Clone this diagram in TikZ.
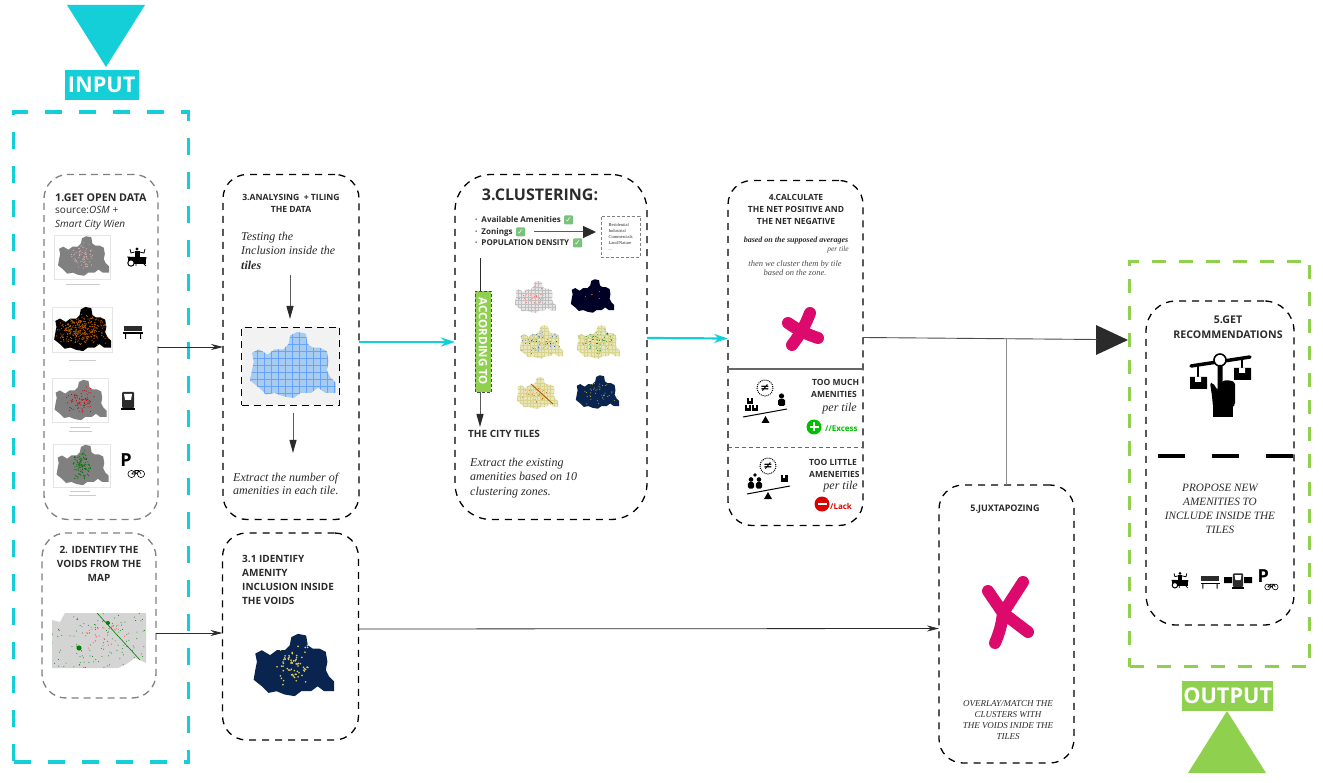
\documentclass[tikz,border=0pt]{standalone}
\usepackage{fontspec}
\setmainfont{Liberation Serif}
\setsansfont{Open Sans}
\newfontfamily\symfont{DejaVu Sans}
\usetikzlibrary{arrows.meta}
\definecolor{inputcol}{HTML}{15CFD8}
\definecolor{outputcol}{HTML}{8FD14F}
\definecolor{inkcol}{HTML}{2B2B2B}
\definecolor{pinkcol}{HTML}{DB0A6C}
\definecolor{navycol}{HTML}{0A2450}
\definecolor{creamcol}{HTML}{E9E5BC}
\definecolor{checkcol}{HTML}{78C27C}
\definecolor{tilecol}{HTML}{A8CBF0}
\newcommand{\viennashape}{(-48,18) -- (-46,6) -- (-44,-4) -- (-46,-14) -- (-38,-18) -- (-28,-12) -- (-20,-18) -- (-10,-18) -- (-4,-24) -- (-2,-34) -- (6,-38) -- (16,-36) -- (18,-24) -- (24,-20) -- (32,-20) -- (40,-16) -- (42,-4) -- (40,6) -- (44,14) -- (50,20) -- (50,32) -- (38,32) -- (30,26) -- (22,32) -- (10,32) -- (2,38) -- (-10,36) -- (-20,32) -- (-30,34) -- (-38,26) -- cycle}
\newcommand{\viennamap}[7]{
  \begin{scope}[shift={(#1,#2)},scale=#3]
    \fill[#4] \viennashape;
    \begin{scope}
      \clip \viennashape;
      \foreach \i in {1,...,#6}
        \fill[#5] ({#7*(rnd+rnd-1)},{30*(rnd+rnd-1)}) circle (1.1);
    \end{scope}
  \end{scope}}
\newcommand{\viennagrid}[5]{
  \begin{scope}[shift={(#1,#2)},scale=#3]
    \clip \viennashape;
    \foreach \i in {-48,-40,...,48}
      \draw[#4,line width=#5] (\i,-38) -- (\i,38);
    \foreach \i in {-32,-24,...,32}
      \draw[#4,line width=#5] (-48,\i) -- (50,\i);
  \end{scope}}
\tikzset{
  headtext/.style={font=\sffamily\bfseries\fontsize{#1}{#1}\selectfont\setlength\baselineskip{1.4\baselineskip},text=inkcol,inner sep=0pt},
  plaintext/.style={font=\sffamily\fontsize{10}{14}\selectfont,text=inkcol,inner sep=0pt},
  notetext/.style={font=\itshape\fontsize{#1}{#1}\selectfont\setlength\baselineskip{1.2\baselineskip},text=inkcol,inner sep=0pt},
  roundbox/.style={draw=black,line width=1.3pt,dash pattern=on 7pt off 6pt,rounded corners=24pt,anchor=north west,outer sep=0pt},
  greybox/.style={roundbox,draw=gray,dash pattern=on 7pt off 5pt},
  bigframe/.style={draw=#1,line width=3.5pt,dash pattern=on 17pt off 17pt,anchor=north west,outer sep=0pt},
  banner/.style={fill=#1,text=white,font=\sffamily\bfseries\fontsize{21.7}{21.7}\selectfont,inner sep=0pt,anchor=north west},
  flow/.style={draw=inkcol,line width=.8pt,-{Stealth[length=12pt,width=6pt]}},
  bigflow/.style={draw=gray!70!black,line width=1pt,-{Stealth[length=13pt,width=7pt,inset=0pt,color=inkcol]}},
  cyanflow/.style={draw=inputcol,line width=2.2pt,-{Stealth[length=14pt,width=9pt]}},
  cross/.style={draw=pinkcol,line width=12pt,line cap=round,line join=round},
  mapframe/.style={draw=black!10,fill=white,line width=.4pt},
  maprule/.style={draw=black!20,line width=.6pt},
  chkbox/.style={fill=checkcol,text=white,font=\symfont\bfseries\fontsize{7.5}{7.5}\selectfont,inner sep=0pt,minimum size=9pt,rounded corners=1pt},
  drummericon/.pic={
    \fill (0,-9) circle (1.7);
    \fill (-2.5,-7) rectangle (2.5,0);
    \draw[line width=.8pt] (-2.5,-6) -- (-6,-5) -- (-7,-9) (2.5,-6) -- (7,-5) -- (8,-9);
    \fill (-9,-1) rectangle (9,6);
    \draw[fill=white,line width=1pt] (-6,5) circle (3.2);
    \draw[line width=.8pt] (7,6) -- (9,8) (-1,6) -- (-1,8) (-10,-1) -- (10,0);},
  benchicon/.pic={
    \fill[inkcol] (-9,-7) rectangle (9,-2);
    \fill (-10,-.5) rectangle (10,1);
    \fill (-8,1) rectangle (-7,6) (7,1) rectangle (8,6);},
  kioskicon/.pic={
    \fill[inkcol,rounded corners=1pt] (-6,-9) rectangle (6,7);
    \fill[white] (-4,-7) -- (4,-7) -- (3,-1) -- (-3,-1) -- cycle;
    \fill (-7,7) rectangle (7,9);},
  bikeicon/.pic={
    \node[font=\sffamily\bfseries\fontsize{18}{18}\selectfont,inner sep=0pt] (letter) at (-6,-4) {P};
    \draw[line width=.6pt] (-.5,10) circle (3.6) (9,10) circle (3.6);
    \draw[line width=.6pt] (-.5,10) -- (3,6.5) -- (7,6.5) -- (9,10) (3,6.5) -- (4,10) -- (7,6.5) (-.5,10) -- (4,10);},
  personicon/.pic={
    \fill (0,-5) circle (2.6);
    \fill[rounded corners=1.5pt] (-3.5,-2) rectangle (3.5,5);},
  cartonicon/.pic={
    \fill (-3.5,-3.5) rectangle (3.5,3.5);
    \fill[white] (-.9,-3.5) rectangle (.9,-.5);},
  nequalicon/.pic={
    \draw[densely dotted,line width=1pt,fill=white] (0,0) circle (8);
    \node[font=\symfont\bfseries\fontsize{11}{11}\selectfont,inner sep=0pt] (sign) at (0,0) {≠};}
}
\begin{document}
\begin{tikzpicture}[x=1pt,y=-1pt]
  \useasboundingbox[fill=white] (0,0) rectangle (1323,783);
  \pgfmathsetseed{4242}

  \fill[inputcol] (67,5) -- (145,5) -- (106,67) -- cycle;
  \node[banner=inputcol,minimum width=74pt,minimum height=30pt] (inputlabel) at (64.5,70) {INPUT};
  \node[bigframe=inputcol,minimum width=175pt,minimum height=650pt] (inputframe) at (13.5,112) {};

  \fill[outputcol] (1188,773) -- (1266,773) -- (1227,711) -- cycle;
  \node[banner=outputcol,minimum width=91pt,minimum height=30pt] (outputlabel) at (1182,681) {OUTPUT};
  \node[bigframe=outputcol,line width=3pt,dash pattern=on 14pt off 13pt,minimum width=180pt,minimum height=405pt] (outputframe) at (1129.5,261.5) {};

  \node[greybox,minimum width=114pt,minimum height=345pt] (opendata) at (44,174.5) {};
  \node[greybox,minimum width=114pt,minimum height=165pt] (voids) at (42,533) {};
  \node[roundbox,minimum width=136pt,minimum height=345pt] (tiling) at (223,174.5) {};
  \node[roundbox,minimum width=136pt,minimum height=207pt] (voidincl) at (222.5,533) {};
  \node[roundbox,rounded corners=36pt,minimum width=192pt,minimum height=345pt] (clustering) at (455,174.5) {};
  \node[roundbox,minimum width=135pt,minimum height=345pt] (netcalc) at (728,180.5) {};
  \node[roundbox,minimum width=135pt,minimum height=278pt] (juxt) at (939,485) {};
  \node[roundbox,rounded corners=30pt,minimum width=148pt,minimum height=324pt] (recommend) at (1146,301) {};

  \node[headtext=10.7,anchor=north west] (opentitle) at (55,194) {1.GET OPEN DATA};
  \node[plaintext,align=left,anchor=north west] (opensource) at (55,206) {source:\textit{OSM +}\\\textit{Smart City Wien}};
  \draw[mapframe] (54,235) rectangle (110,279);
  \draw[mapframe] (52,307) rectangle (112,352);
  \draw[mapframe] (52,378) rectangle (108,422);
  \draw[mapframe] (53,444) rectangle (110,487);
  \viennamap{83}{256}{.52}{black!50}{pink!80!gray}{70}{25}
  \viennamap{82}{329}{.58}{black}{orange!75!black}{320}{50}
  \viennamap{80}{400}{.53}{black!50}{red!85!black}{80}{28}
  \viennamap{82}{465}{.53}{black!50}{green!45!black}{110}{18}
  \draw[maprule] (66,284) -- (100,284) (69,360) -- (96,360) (70,427) -- (90,427) (69,431) -- (92,431) (70,491) -- (90,491) (69,495) -- (96,495);
  \pic (drummer) at (137,258) {drummericon};
  \pic (bench) at (133,333) {benchicon};
  \pic (kiosk) at (128,401) {kioskicon};
  \pic (bike) at (132,464) {bikeicon};

  \node[headtext=10,align=center,anchor=north] (voidstitle) at (99,546) {2. IDENTIFY THE\\VOIDS FROM THE\\MAP};
  \fill[black!17] (65,613) -- (146,613) -- (146,663) -- (135,658) -- (125,665) -- (118,668) -- (52,668) -- (52,620) -- (60,622) -- cycle;
  \begin{scope}
    \clip (65,613) -- (146,613) -- (146,663) -- (135,658) -- (125,665) -- (118,668) -- (52,668) -- (52,620) -- (60,622) -- cycle;
    \foreach \i in {1,...,130}
      \fill[green!50!black] ({52+94*rnd},{613+55*rnd}) circle (.5);
    \foreach \i in {1,...,30}
      \fill[red!55!white] ({85+45*rnd},{625+25*rnd}) circle (.7);
    \fill[green!50!black] (79,648) circle (2.6) (108,623) circle (2);
    \draw[green!50!black,line width=.6pt] (97,613) -- (140,660);
  \end{scope}

  \node[headtext=8.6,align=center,anchor=north] (tilingtitle) at (291,194) {3.ANALYSING\ \ + TILING\\[.5pt]THE DATA};
  \node[notetext=12,align=left,anchor=north west] (testing) at (241,232) {Testing the\\Inclusion inside the\\\textbf{tiles}};
  \node[draw=black,line width=1.3pt,dash pattern=on 7pt off 5pt,fill=black!5,minimum width=98pt,minimum height=78pt,anchor=north west,outer sep=0pt] (tilemap) at (241.5,327.5) {};
  \viennamap{292}{365}{.87}{tilecol}{tilecol}{1}{10}
  \viennagrid{292}{365}{.87}{blue!60!cyan!60!white}{.5pt}
  \node[notetext=12,align=left,anchor=north west] (extract) at (233,473) {Extract the number of\\[-1.5pt]amenities in each tile.};

  \node[headtext=10,align=left,anchor=north west] (incltitle) at (242,555) {3.1 IDENTIFY\\AMENITY\\INCLUSION INSIDE\\THE VOIDS};
  \viennamap{293}{665}{.82}{navycol}{yellow!50!brown!80!white}{70}{28}

  \node[headtext=16,anchor=north] (clustertitle) at (540,189) {3.CLUSTERING:};
  \node[headtext=8,anchor=west] (bullet1) at (475,220) {·\hspace{4pt}Available Amenities};
  \node[headtext=8,anchor=west] (bullet2) at (475,232) {·\hspace{4pt}Zonings};
  \node[headtext=8,anchor=west] (bullet3) at (475,243) {·\hspace{4pt}POPULATION DENSITY};
  \node[chkbox] (check1) at (568.5,220) {✓};
  \node[chkbox] (check2) at (520.5,232) {✓};
  \node[chkbox] (check3) at (577.5,243) {✓};
  \node[greybox,line width=.8pt,dash pattern=on 3pt off 2pt,rounded corners=0pt,minimum width=39pt,minimum height=41pt] (zones) at (601,216) {};
  \node[font=\fontsize{4.5}{6}\selectfont,align=left,text=inkcol,inner sep=0pt] (zonetext) at (zones) {Residential\\Industrial\\Commercials\\Land/Nature\\...};
  \node[fill=outputcol,draw=gray!60!black,line width=.8pt,densely dashed,minimum width=101pt,minimum height=16pt,inner sep=0pt,rotate=-90,text=white,font=\sffamily\bfseries\fontsize{11.5}{11.5}\selectfont] (according) at (483,341.5) {ACCORDING TO};
  \coordinate (accordstart) at (480,258);
  \coordinate (accordtop) at (480,291);
  \coordinate (accordbottom) at (480,392);
  \coordinate (citytip) at (480,427);
  \node[headtext=10,anchor=west] (citytiles) at (468,434) {THE CITY TILES};
  \node[notetext=12,align=left,anchor=north west] (existing) at (470,458) {Extract the existing\\amenities based on 10\\clustering zones.};
  \viennamap{535}{297}{.42}{black!10}{red!70!white}{60}{40}
  \viennagrid{535}{297}{.42}{black!25}{.3pt}
  \viennamap{592}{296}{.44}{black!85!blue}{orange!80!red}{6}{30}
  \viennamap{541}{342}{.44}{creamcol}{blue!60!cyan!70!black}{140}{50}
  \viennagrid{541}{342}{.44}{olive!35}{.3pt}
  \viennamap{598}{342}{.44}{creamcol}{green!50!black}{160}{50}
  \viennagrid{598}{342}{.44}{olive!35}{.3pt}
  \viennamap{537}{393}{.42}{creamcol}{orange!80!black}{70}{40}
  \viennagrid{537}{393}{.42}{olive!35}{.3pt}
  \draw[orange!70!black,line width=.9pt] (531,384) -- (553,404);
  \viennamap{597}{392}{.44}{navycol}{yellow!50!brown}{40}{45}

  \node[headtext=8.5,align=center,anchor=north] (calctitle) at (796,194) {4.CALCULATE\\THE NET POSITIVE AND\\THE NET NEGATIVE};
  \node[font=\bfseries\itshape\fontsize{8}{8}\selectfont,text=inkcol,inner sep=0pt] (averages) at (796,241) {based on the supposed averages};
  \node[notetext=7.5,anchor=east,text=black!70] (pertile) at (849,250) {per tile};
  \node[notetext=8.5,align=center,anchor=north,text=black!70,font=\itshape\fontsize{8.5}{9.5}\selectfont] (thencluster) at (795,260) {then we cluster them by tile\\based on the zone.};
  \draw[cross] (810,313) to[bend left=8] (792,345);
  \draw[cross] (788,323) to[bend right=8] (818,338);
  \coordinate (dividerleft) at (728,369);
  \coordinate (dividerright) at (863,369);
  \coordinate (splitleft) at (728,447);
  \coordinate (splitright) at (863,447);
  \draw[black!60,line width=1.2pt] (dividerleft) -- (dividerright);
  \draw[black!60,line width=.9pt,dash pattern=on 4pt off 3pt] (splitleft) -- (splitright);
  \pic (nequalone) at (765,388) {nequalicon};
  \draw[line width=1pt] (743,417) -- (787,409);
  \fill (761.5,423) -- (769.5,423) -- (765.5,416) -- cycle;
  \pic[scale=.8] (cartona) at (750,401) {cartonicon};
  \pic[scale=.8] (cartonb) at (748,408) {cartonicon};
  \pic[scale=.8] (cartonc) at (755,408) {cartonicon};
  \pic (personone) at (781.5,401) {personicon};
  \node[headtext=8.5,align=left,anchor=north west] (toomuch) at (811,379) {\hspace{1pt}TOO MUCH\\AMENITIES};
  \node[notetext=12,anchor=east] (muchtile) at (857,408.5) {per tile};
  \fill[green!75!black] (814,427) circle (7.5);
  \draw[white,line width=2.5pt] (814,422.5) -- (814,431.5) (809.5,427) -- (818.5,427);
  \node[font=\sffamily\bfseries\fontsize{8}{8}\selectfont,text=green!75!black,inner sep=0pt,anchor=west] (excess) at (825,429) {//Excess};
  \pic (nequaltwo) at (768,466) {nequalicon};
  \draw[line width=1pt] (747,494) -- (790,486);
  \fill (764,499) -- (772,499) -- (768,492) -- cycle;
  \pic[scale=.9] (persona) at (751,484) {personicon};
  \pic[scale=.9] (personb) at (759,484) {personicon};
  \fill (755,475) circle (1.8);
  \pic (cartond) at (784,478) {cartonicon};
  \node[headtext=8.5,align=left,anchor=north west] (toolittle) at (809,459) {TOO LITTLE\\AMENEITIES};
  \node[notetext=12,anchor=east] (littletile) at (858,486.5) {per tile};
  \fill[red!85!black] (822,504) circle (7.5);
  \draw[white,line width=1.5pt] (817.5,504) -- (826.5,504);
  \node[font=\sffamily\bfseries\fontsize{8}{8}\selectfont,text=red!90!black,inner sep=0pt,anchor=west] (lack) at (830,506) {/Lack};

  \node[headtext=9,anchor=north] (juxttitle) at (1005,505) {5.JUXTAPOZING};
  \draw[cross] (988,591) -- (1003,613) -- (1028,632);
  \draw[cross] (1023,582) -- (1003,613) to[bend left=8] (995,643);
  \node[notetext=9,align=center,anchor=north,font=\itshape\fontsize{9}{11}\selectfont] (overlay) at (1008,700.5) {OVERLAY/MATCH THE\\CLUSTERS WITH\\THE VOIDS INIDE THE\\TILES};

  \node[headtext=10.6,align=center,anchor=north] (rectitle) at (1228,316) {5.GET\\RECOMMENDATIONS};
  \draw[line width=3.5pt,line cap=round] (1191,366) -- (1250,357);
  \draw[line width=1.6pt] (1198,366) -- (1198,378) (1242,358) -- (1242,369);
  \fill (1190,377) rectangle (1207,389) (1234,368) rectangle (1251,380);
  \fill[white] (1195,377) rectangle (1201,382) (1239,368) rectangle (1245,373);
  \draw[line width=1.6pt,fill=white] (1220,360) circle (6);
  \fill[rounded corners=1.5pt] (1217.5,365) rectangle (1222.5,392);
  \fill[rounded corners=2pt] (1210,383) -- (1213,383) -- (1217.5,390) -- (1222,381) -- (1228,380) -- (1235,382) -- (1235,405) -- (1233,407) -- (1213,407) -- (1212,396) -- cycle;
  \fill (1213,405) rectangle (1233,417);
  \draw[black,line width=4.5pt,dash pattern=on 27pt off 27pt] (1158,456) -- (1294,456);
  \node[notetext=11,align=center,anchor=north,font=\itshape\fontsize{11.2}{14}\selectfont] (propose) at (1220,484) {PROPOSE NEW\\AMENITIES TO\\INCLUDE INSIDE THE\\TILES};
  \pic[scale=.85] (drummerrow) at (1180,581) {drummericon};
  \pic[scale=.95] (benchrow) at (1210,583) {benchicon};
  \pic[scale=.85] (kioskrow) at (1238,581) {kioskicon};
  \fill (1224,577) rectangle (1232,583) (1244,577) rectangle (1252,583);
  \pic[scale=.8] (bikerow) at (1268,579) {bikeicon};

  \fill[inkcol] (1096,325) -- (1128,340) -- (1096,355) -- cycle;
  \coordinate (resulttip) at (1097,339.5);
  \coordinate (branch) at (1006.5,338.5);
  \coordinate (testinglow) at (290,275);
  \coordinate (tilemaptop) at (290,319);
  \coordinate (tilemaplow) at (293,413);
  \coordinate (extracttop) at (293,453);
  \coordinate (arrowstart) at (534,232);
  \coordinate (arrowend) at (596,232);
  \begin{scope}[flow]
    \draw (opendata) -- (tiling);
    \draw ([yshift=-17.5pt]voids.east) -- ([yshift=3.5pt]voidincl.west);
    \draw ([yshift=7.5pt]voidincl.east) -- ([yshift=-4.5pt]juxt.west);
  \end{scope}
  \begin{scope}[cyanflow]
    \draw ([yshift=5pt]tiling.east) -- ([yshift=5pt]clustering.west);
    \draw ([yshift=9pt]clustering.east) -- ([yshift=14.5pt]netcalc.west);
  \end{scope}
  \begin{scope}[bigflow]
    \draw (testinglow) -- (tilemaptop);
    \draw (tilemaplow) -- (extracttop);
    \draw (accordbottom) -- (citytip);
    \draw[-{Stealth[length=13pt,width=12pt,inset=0pt,color=inkcol]}] (arrowstart) -- (arrowend);
  \end{scope}
  \draw[inkcol,line width=.8pt] (accordstart) -- (accordtop);
  \draw[black!70,line width=.9pt] ([yshift=15.5pt]netcalc.east) -- (resulttip);
  \draw[black!45,line width=.9pt] (branch) -- (juxt);
\end{tikzpicture}
\end{document}
